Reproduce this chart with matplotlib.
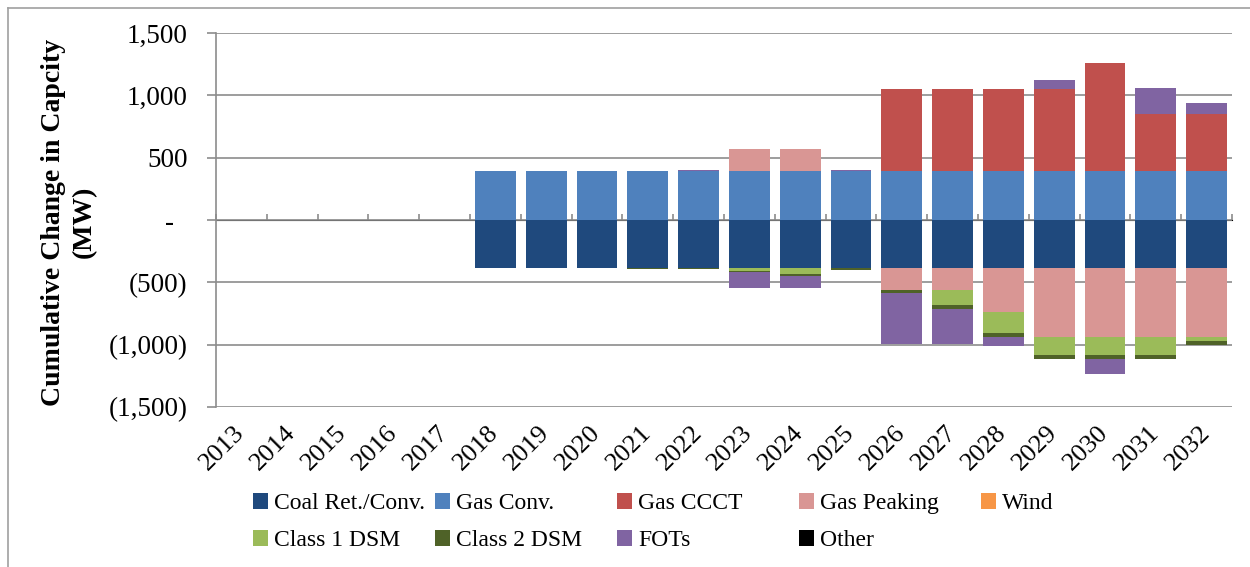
import numpy as np
import matplotlib
matplotlib.use("Agg")
import matplotlib.pyplot as plt
from matplotlib.lines import Line2D

plt.rcParams['font.family'] = ['Liberation Serif', 'DejaVu Serif']

years = [str(y) for y in range(2013, 2033)]

# cumulative change in capacity, MW
coal      = [0, 0, 0, 0, 0, -385, -385, -385, -385, -385, -385, -385, -385, -385, -385, -385, -385, -385, -385, -385]
gas_conv  = [0, 0, 0, 0, 0, 390, 390, 390, 390, 390, 390, 390, 390, 390, 390, 390, 390, 390, 390, 390]
gas_ccct  = [0, 0, 0, 0, 0, 0, 0, 0, 0, 0, 0, 0, 0, 660, 660, 660, 660, 871, 460, 460]
gas_peak  = [0, 0, 0, 0, 0, 0, 0, 0, 0, 0, 180, 180, 0, -174, -174, -356, -553, -553, -553, -553]
wind      = [0] * 20
class1    = [0, 0, 0, 0, 0, 0, 0, 0, -3, 0, -21, -45, -4, 0, -126, -166, -142, -142, -142, -29]
class2    = [0, 0, 0, 0, 0, 0, 0, 0, -3, -10, -13, -16, -12, -27, -29, -32, -32, -32, -32, -32]
fots      = [0, 0, 0, 0, 0, 0, 0, 0, 3, 10, -125, -99, 10, -406, -278, -75, 72, -126, 206, 91]
other     = [0, 0, 0, 0, 0, 0, 5, 0, 0, 0, 0, 0, 0, 0, 0, 0, 0, 0, 0, 0]

series = [
    ("Coal Ret./Conv.", coal, "#1F497D"),
    ("Gas Conv.", gas_conv, "#4F81BD"),
    ("Gas CCCT", gas_ccct, "#C0504D"),
    ("Gas Peaking", gas_peak, "#D99694"),
    ("Wind", wind, "#F79646"),
    ("Class 1 DSM", class1, "#9BBB59"),
    ("Class 2 DSM", class2, "#4F6228"),
    ("FOTs", fots, "#8064A2"),
    ("Other", other, "#000000"),
]

W, H = 1250, 567
fig = plt.figure(figsize=(W / 100, H / 100), dpi=100)
ax = fig.add_axes([216 / W, 1 - 407 / H, (1232 - 216) / W, (407 - 33) / H])

x = np.arange(len(years))
pos_base = np.zeros(len(years))
neg_base = np.zeros(len(years))
handles = {}
for name, vals, col in series:
    v = np.array(vals, dtype=float)
    bottom = np.where(v >= 0, pos_base, neg_base)
    bc = ax.bar(x, v, 0.8, bottom=bottom, color=col, linewidth=0, zorder=3)
    handles[name] = bc
    pos_base += np.clip(v, 0, None)
    neg_base += np.clip(v, None, 0)

grid_c = "#8C8C8C"
ax.set_xlim(-0.5, len(years) - 0.5)
ax.set_ylim(-1500, 1500)
yt = [1500, 1000, 500, 0, -500, -1000, -1500]
ax.set_yticks(yt)
ax.set_yticklabels(["1,500", "1,000", "500", "-  ", "(500)", "(1,000)", "(1,500)"])
ax.yaxis.grid(True, color=grid_c, linewidth=1.2, zorder=0)
ax.set_axisbelow(True)
for s in ["top", "right", "bottom"]:
    ax.spines[s].set_visible(False)
ax.spines["left"].set_color(grid_c)
ax.spines["left"].set_linewidth(1.2)
ax.tick_params(axis="y", length=6.5, width=1.2, color=grid_c, pad=14, labelsize=19.5)

ax.set_xticks(x)
ax.set_xticklabels(years, rotation=45, ha="right", va="center", rotation_mode="anchor")
ax.tick_params(axis="x", length=0, pad=16, labelsize=19)

# category axis crossing at zero, ticks between categories
sec = ax.secondary_xaxis(0.5)
sec.set_xticks(np.arange(-0.5, len(years), 1.0))
sec.set_xticklabels([])
sec.tick_params(axis="x", length=4, width=1.2, color=grid_c, direction="out")
sec.spines["bottom"].set_color(grid_c)
sec.spines["bottom"].set_linewidth(1.2)

fig.text(69 / W, 1 - 222 / H, "Cumulative Change in Capcity\n(MW)", rotation=90,
         ha="center", va="center", multialignment="center", fontsize=20,
         fontweight="bold", linespacing=1.3)

# legend, laid out in five evenly spaced columns like the original
cols = [["Coal Ret./Conv.", "Class 1 DSM"], ["Gas Conv.", "Class 2 DSM"],
        ["Gas CCCT", "FOTs"], ["Gas Peaking", "Other"], ["Wind"]]
for i, names in enumerate(cols):
    fig.legend([handles[n] for n in names], names, loc="upper left",
               bbox_to_anchor=((253 + 182 * i) / W, 1 - 493 / H),
               frameon=False, fontsize=17, handlelength=0.65, handleheight=0.65,
               handletextpad=0.25, labelspacing=0.68, borderpad=0, borderaxespad=0)

# outer chart border
fig.add_artist(Line2D([7.5 / W, 7.5 / W], [0, 1 - 7.5 / H], color="#A0A0A0", linewidth=1.2))
fig.add_artist(Line2D([7.5 / W, 1], [1 - 7.5 / H, 1 - 7.5 / H], color="#A0A0A0", linewidth=1.2))

fig.savefig("out.png", dpi=100)
